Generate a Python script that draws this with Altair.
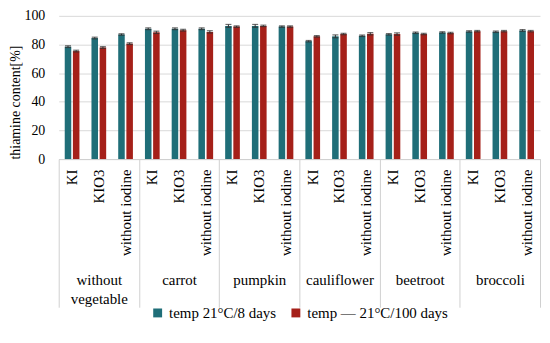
import altair as alt
import pandas as pd

groups = ["without vegetable", "carrot", "pumpkin", "cauliflower", "beetroot", "broccoli"]
cats = ["KI", "KIO3", "without iodine"]
series = ["temp 21°C/8 days", "temp — 21°C/100 days"]

val_8 = [78.5, 84.5, 87.0, 91.0, 91.0, 91.0, 93.0, 93.0, 92.5, 82.3, 85.7, 86.1, 87.1, 88.2, 88.4, 89.1, 88.9, 89.8]
val_100 = [75.4, 77.9, 80.6, 88.5, 90.0, 88.8, 92.5, 93.0, 92.5, 85.7, 87.3, 87.5, 87.3, 87.3, 88.0, 89.3, 89.3, 89.3]
err_8 = [0.6, 0.6, 0.5, 0.6, 0.6, 0.6, 1.0, 1.0, 0.5, 0.5, 1.0, 0.5, 0.5, 0.5, 0.5, 0.5, 0.5, 0.6]
err_100 = [0.6, 0.6, 0.6, 0.8, 0.6, 0.8, 0.5, 0.5, 0.5, 0.5, 0.5, 0.8, 0.8, 0.5, 0.5, 0.5, 0.5, 0.5]

colors = ["#1F6E78", "#A52019"]
FONT = "Liberation Serif"

rows = []
keys = []
i = 0
for g in groups:
    for c in cats:
        k = g + "|" + c
        keys.append(k)
        for s, vals, errs in ((series[0], val_8, err_8), (series[1], val_100, err_100)):
            rows.append({"key": k, "group": g, "cat": c, "series": s,
                         "value": vals[i], "lo": vals[i] - errs[i], "hi": vals[i] + errs[i]})
        i += 1
df = pd.DataFrame(rows)

x_axis = alt.Axis(title=None, labelAngle=270, ticks=False, labelPadding=10,
                  labelExpr="split(datum.label, '|')[1]", labelFontSize=15,
                  labelFont=FONT, labelColor="#000000", domainColor="#D0D0D0",
                  orient="bottom")
x_scale = alt.Scale(paddingInner=0.45, paddingOuter=0.225)
x_cat = alt.X("key:N", sort=keys, scale=x_scale, axis=x_axis)
x_off = alt.XOffset("series:N", sort=series, scale=alt.Scale(paddingInner=0.2))

y_axis = alt.Axis(title="thiamine content[%]", values=[0, 20, 40, 60, 80, 100],
                  labelOverlap=False,
                  ticks=False, domain=False, labelPadding=14, gridColor="#D9D9D9",
                  labelFontSize=14, labelFont=FONT, labelColor="#000000",
                  titleFont=FONT, titleFontSize=14, titleFontWeight="normal",
                  titleColor="#000000", titleAnchor="start", titlePadding=1)
y_scale = alt.Scale(domain=[0, 100])

bars = alt.Chart(df).mark_bar().encode(
    x=x_cat,
    xOffset=x_off,
    y=alt.Y("value:Q", scale=y_scale, axis=y_axis),
    color=alt.Color("series:N", sort=series, scale=alt.Scale(domain=series, range=colors),
                    legend=alt.Legend(title=None, orient="none", legendX=92, legendY=291,
                                      direction="horizontal",
                                      symbolType="square", symbolSize=80, symbolStrokeWidth=0,
                                      labelFont=FONT, labelFontSize=15, labelColor="#000000",
                                      columnPadding=12, labelOffset=4, padding=0)),
)

err_rule = alt.Chart(df).mark_rule(color="#303030", strokeWidth=1).encode(
    x=x_cat, xOffset=x_off, y=alt.Y("lo:Q", scale=y_scale, axis=y_axis), y2="hi:Q")
cap_hi = alt.Chart(df).mark_tick(color="#303030", thickness=1.2, size=6).encode(
    x=x_cat, xOffset=x_off, y=alt.Y("hi:Q", scale=y_scale, axis=y_axis))
cap_lo = alt.Chart(df).mark_tick(color="#303030", thickness=1.2, size=6).encode(
    x=x_cat, xOffset=x_off, y=alt.Y("lo:Q", scale=y_scale, axis=y_axis))

inner = alt.layer(bars, err_rule, cap_hi, cap_lo)

group_layer = alt.Chart(df).mark_text(text="").encode(
    x=alt.X("group:N", sort=groups, scale=alt.Scale(paddingInner=0, paddingOuter=0),
            axis=alt.Axis(title=None, orient="bottom", offset=0, tickBand="extent",
                          tickSize=149, tickColor="#D0D0D0", domainColor="#D0D0D0",
                          labelPadding=-35, labelAngle=0, labelBaseline="top",
                          labelFont=FONT, labelFontSize=15, labelColor="#000000",
                          labelLineHeight=19,
                          labelExpr="datum.value == 'without vegetable' ? ['without', 'vegetable'] : datum.label")),
)

chart = alt.layer(inner, group_layer).resolve_scale(x="independent").properties(
    width=484, height=144,
    autosize=alt.AutoSizeParams(type="none"),
    padding={"left": 51, "top": 7, "right": 2, "bottom": 170},
).configure_view(stroke=None).configure_axis(
    labelFont=FONT, titleFont=FONT
).configure_legend(labelFont=FONT)

chart.save("out.html", embed_options={"renderer": "svg", "actions": False})
